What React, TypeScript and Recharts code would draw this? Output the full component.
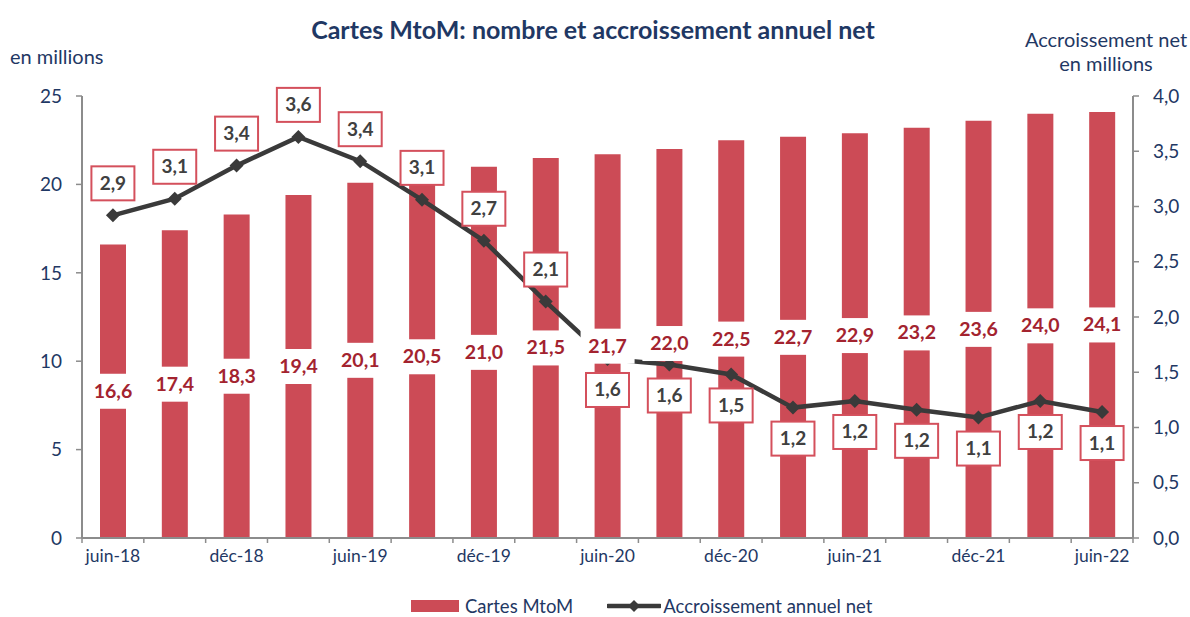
import { ComposedChart, Bar, Line, XAxis, YAxis, LabelList } from "recharts"

const quarters = [
  "juin-18", "sept-18", "déc-18", "mars-19", "juin-19", "sept-19", "déc-19", "mars-20",
  "juin-20", "sept-20", "déc-20", "mars-21", "juin-21", "sept-21", "déc-21", "mars-22", "juin-22",
]
const cartes = [16.6, 17.4, 18.3, 19.4, 20.1, 20.5, 21.0, 21.5, 21.7, 22.0, 22.5, 22.7, 22.9, 23.2, 23.6, 24.0, 24.1]
const accroissement = [2.92, 3.07, 3.37, 3.63, 3.41, 3.06, 2.69, 2.14, 1.62, 1.57, 1.48, 1.18, 1.24, 1.16, 1.09, 1.24, 1.14]
const leftTicks = [0, 5, 10, 15, 20, 25]
const rightTicks = [0, 0.5, 1, 1.5, 2, 2.5, 3, 3.5, 4]

const NAVY = "#1f3864"
const RED = "#cc4b56"
const DARK_RED = "#a3232f"
const LINE = "#3a3a3a"
const AXIS = "#8c8c8c"
const FONT = "Lato, 'Open Sans', sans-serif"

const data = quarters.map((q, i) => ({ q, cartes: cartes[i], accr: accroissement[i] }))

const fmt = (v: number, d = 1) => v.toFixed(d).replace(".", ",")

function XTick(props: any) {
  const { x, y, payload, index } = props
  const half = payload?.offset || 31
  const last = index === quarters.length - 1
  return (
    <g>
      <line x1={x - half} x2={x - half} y1={y - 8} y2={y - 3} stroke={AXIS} strokeWidth={1.5} />
      {last && <line x1={x + half} x2={x + half} y1={y - 8} y2={y - 3} stroke={AXIS} strokeWidth={1.5} />}
      {index % 2 === 0 && (
        <text x={x} y={y + 16} textAnchor="middle" fill={NAVY} fontSize={17.5} fontFamily={FONT}>
          {payload.value}
        </text>
      )}
    </g>
  )
}

function BarValue(props: any) {
  const { x, y, width, height, value } = props
  const cx = x + width / 2
  const cy = y + height / 2
  return (
    <g>
      <rect x={cx - 27} y={cy - 17.5} width={54} height={35} fill="#fff" />
      <text x={cx} y={cy + 6.5} textAnchor="middle" fill={DARK_RED} fontSize={19.5} fontWeight={700} fontFamily={FONT}>
        {fmt(value)}
      </text>
    </g>
  )
}

function LineValue(props: any) {
  const { x, y, value, index } = props
  const cy = index < 8 ? y - 32 : y + 31
  return (
    <g>
      <rect x={x - 21.5} y={cy - 17} width={43} height={34} fill="#fff" stroke="#d4505c" strokeWidth={2} />
      <text x={x} y={cy + 6.5} textAnchor="middle" fill="#404040" fontSize={19} fontWeight={700} fontFamily={FONT}>
        {fmt(value)}
      </text>
    </g>
  )
}

function Diamond(props: any) {
  const { cx, cy } = props
  if (cx == null || cy == null) return null
  const s = 7
  return <polygon points={`${cx},${cy - s} ${cx + s},${cy} ${cx},${cy + s} ${cx - s},${cy}`} fill={LINE} />
}

export default function App() {
  return (
    <div style={{ position: "absolute", left: 0, top: 0, width: 1190, height: 617, background: "#fff", fontFamily: FONT }}>
      <div style={{ position: "absolute", top: 14, left: 0, width: 1186, textAlign: "center", color: NAVY, fontSize: 25, fontWeight: 700 }}>
        Cartes MtoM: nombre et accroissement annuel net
      </div>
      <div style={{ position: "absolute", top: 44, left: 10, color: NAVY, fontSize: 20 }}>en millions</div>
      <div style={{ position: "absolute", top: 27, left: 1010, width: 192, textAlign: "center", color: NAVY, fontSize: 20, lineHeight: "24px" }}>
        Accroissement net<br />en millions
      </div>

      <ComposedChart width={1190} height={617} data={data} margin={{ top: 96, right: 0, left: 0, bottom: 49 }}>
        <XAxis
          dataKey="q"
          interval={0}
          height={30}
          tick={<XTick />}
          tickLine={false}
          axisLine={{ stroke: AXIS, strokeWidth: 2 }}
        />
        <YAxis
          yAxisId="left"
          domain={[0, 25]}
          ticks={leftTicks}
          width={82}
          tickSize={6}
          tickMargin={14}
          tick={{ fill: NAVY, fontSize: 19, fontFamily: FONT }}
          tickLine={{ stroke: AXIS, strokeWidth: 1.5 }}
          axisLine={{ stroke: AXIS, strokeWidth: 2 }}
        />
        <YAxis
          yAxisId="right"
          orientation="right"
          domain={[0, 4]}
          ticks={rightTicks}
          width={57}
          tickSize={6}
          tickMargin={14}
          tickFormatter={(v: number) => fmt(v)}
          tick={{ fill: NAVY, fontSize: 19, fontFamily: FONT, textAnchor: "start" }}
          tickLine={{ stroke: AXIS, strokeWidth: 1.5 }}
          axisLine={{ stroke: AXIS, strokeWidth: 2 }}
        />
        <Bar yAxisId="left" dataKey="cartes" fill={RED} barSize={26} isAnimationActive={false}>
          <LabelList dataKey="cartes" content={<BarValue />} />
        </Bar>
        <Line
          yAxisId="right"
          dataKey="accr"
          stroke={LINE}
          strokeWidth={4.5}
          dot={<Diamond />}
          activeDot={false}
          isAnimationActive={false}
        >
          <LabelList dataKey="accr" content={<LineValue />} />
        </Line>
      </ComposedChart>

      <div style={{ position: "absolute", top: 595, left: 411, display: "flex", alignItems: "center", color: NAVY, fontSize: 18.5 }}>
        <div style={{ width: 48, height: 12, background: RED, marginRight: 6 }} />
        <span>Cartes MtoM</span>
        <svg width={54} height={14} style={{ marginLeft: 34, marginRight: 2 }}>
          <line x1={1} x2={53} y1={7} y2={7} stroke={LINE} strokeWidth={4.5} strokeLinecap="round" />
          <polygon points="27,1 33,7 27,13 21,7" fill={LINE} />
        </svg>
        <span>Accroissement annuel net</span>
      </div>
    </div>
  )
}
